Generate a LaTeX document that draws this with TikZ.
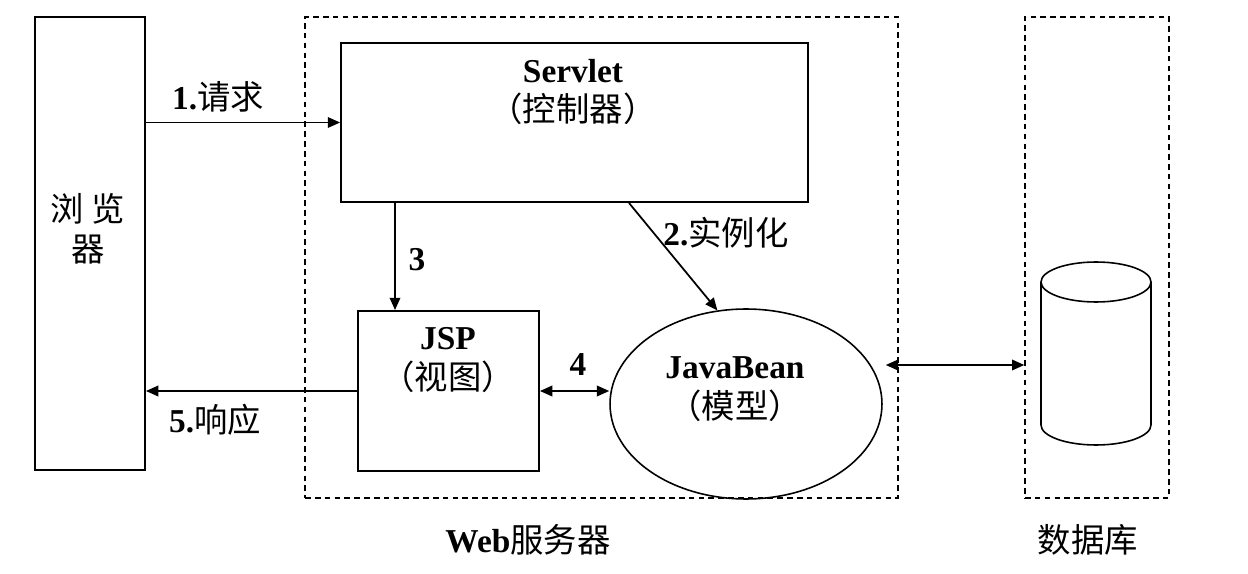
\documentclass[tikz,border=0pt]{standalone}
\usepackage{fontspec}
\setmainfont{Liberation Serif}
\newfontfamily\cjk{Noto Sans CJK SC}
\newcommand{\zh}[1]{{\cjk\mdseries #1}}
\usetikzlibrary{arrows.meta, positioning, shapes.geometric}
\tikzset{
  box/.style={draw, line width=1.1pt, inner sep=0pt},
  dbox/.style={draw, line width=0.8pt, dash pattern=on 3.2pt off 2.4pt, inner sep=0pt},
  txt/.style={font=\fontsize{19}{22.5}\selectfont\bfseries, align=center, inner sep=0pt},
  arr/.style={-{Triangle[length=7pt,width=6pt]}, line width=1pt},
  darr/.style={{Triangle[length=7pt,width=6pt]}-{Triangle[length=7pt,width=6pt]}, line width=1pt}
}

\begin{document}
\begin{tikzpicture}[x=0.02cm, y=-0.02cm]
  \useasboundingbox (0,0) rectangle (1248,574);

  % dashed containers
  \node[dbox, minimum width=11.86cm, minimum height=9.62cm] (web) at (601.5,257.5) {};
  \node[dbox, minimum width=2.88cm, minimum height=9.62cm] (db) at (1097,257.5) {};
  \node[txt] (webtxt) at (528,540) {Web\zh{服务器}};
  \node[txt] (dbtxt) at (1088,540) {\zh{数据库}};

  % boxes
  \node[box, minimum width=2.2cm, minimum height=9.06cm] (browser) at (90,243.5) {};
  \node[txt] (browsertxt) at (88,229) {\zh{浏\ 览}\\\zh{器}};
  \node[box, minimum width=9.34cm, minimum height=3.18cm] (servlet) at (574.5,122.5) {};
  \node[txt] (servlettxt) at (573,92) {Servlet\\\zh{（控制器）}};
  \node[box, minimum width=3.62cm, minimum height=3.2cm] (jsp) at (448.5,391) {};
  \node[txt] (jsptxt) at (448,360) {JSP\\\zh{（视图）}};
  \node[box, ellipse, line width=0.9pt, minimum width=5.44cm, minimum height=3.8cm] (bean) at (746,404) {};
  \node[txt] (beantxt) at (735,389) {JavaBean\\\zh{（模型）}};

  % database cylinder
  \draw[line width=0.9pt] (1096,282) ellipse [x radius=1.1cm, y radius=0.4cm];
  \draw[line width=0.9pt] (1041,282) to (1041,425)
    arc[start angle=180, end angle=360, x radius=1.1cm, y radius=0.4cm] to (1151,282);

  % connectors
  \coordinate (c3) at ([xshift=-1.07cm]jsp.north);
  \coordinate (c6) at ([shift={(0.06cm,0.78cm)}]bean.east);
  \draw[arr] (browser.east |- servlet.west) to (servlet.west);
  \draw[arr] ([xshift=1.09cm]servlet.south) to (bean.107);
  \draw[arr] (servlet.south -| c3) to (c3);
  \draw[darr] (jsp.east) to (jsp.east -| bean.west);
  \draw[arr] (jsp.west) to (jsp.west -| browser.east);
  \draw[darr] (c6) to (c6 -| db.west);

  \node[txt] (l1) at (218,97) {1.\zh{请求}};
  \node[txt] (l2) at (726,233) {2.\zh{实例化}};
  \node[txt] (l3) at (417,260) {3};
  \node[txt] (l4) at (578,365) {4};
  \node[txt] (l5) at (215,420) {5.\zh{响应}};
\end{tikzpicture}
\end{document}
